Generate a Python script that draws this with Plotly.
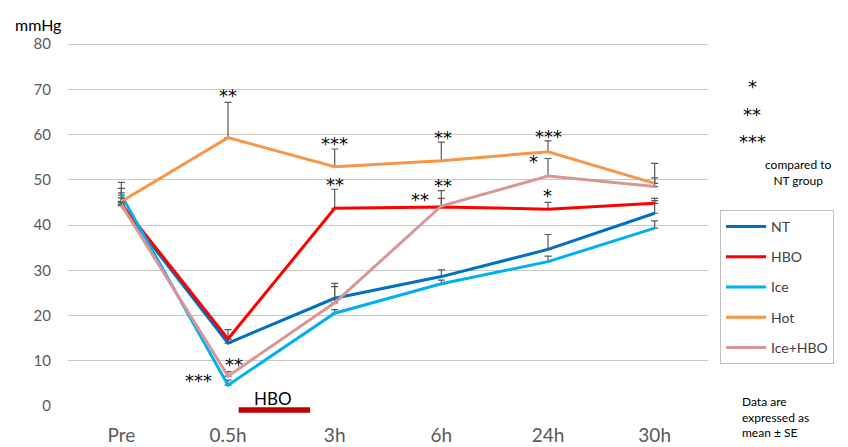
import plotly.graph_objects as go

# Time points and group means (mmHg) with upper standard errors
categories = ["Pre", "0.5h", "3h", "6h", "24h", "30h"]

nt_mean = [44.3, 13.9, 23.8, 28.6, 34.6, 42.6]
nt_se = [3.8, 0.8, 3.3, 1.5, 3.3, 2.8]

hbo_mean = [44.6, 14.8, 43.7, 44.0, 43.5, 44.8]
hbo_se = [2.5, 2.1, 4.2, 1.9, 1.5, 1.1]

ice_mean = [46.6, 4.6, 20.5, 27.0, 31.9, 39.3]
ice_se = [2.8, 1.1, 0.8, 0.8, 1.2, 1.6]

hot_mean = [45.2, 59.3, 52.9, 54.2, 56.2, 49.2]
hot_se = [0.8, 7.8, 3.9, 4.1, 2.4, 4.4]

icehbo_mean = [44.5, 6.6, 22.8, 44.2, 50.8, 48.5]
icehbo_se = [0.5, 1.0, 3.6, 3.4, 3.9, 1.9]

series = [
    ("NT", nt_mean, nt_se, "#0070C0"),
    ("HBO", hbo_mean, hbo_se, "#FF0000"),
    ("Ice", ice_mean, ice_se, "#00B0F0"),
    ("Hot", hot_mean, hot_se, "#F79646"),
    ("Ice+HBO", icehbo_mean, icehbo_se, "#D99694"),
]

# Significance marks vs NT group: (category, y value, text, x shift px)
sig_marks = [
    ("0.5h", 69.2, "**", 0),
    ("3h", 58.6, "***", 0),
    ("3h", 49.7, "**", 0),
    ("6h", 59.9, "**", 2),
    ("6h", 49.3, "**", 2),
    ("6h", 46.2, "**", -21),
    ("24h", 60.3, "***", 0),
    ("24h", 54.6, "*", -15),
    ("24h", 47.1, "*", -1),
    ("0.5h", 9.9, "**", 6),
    ("0.5h", 6.2, "***", -30),
]

FONT = "Lato"
GRAY = "#595959"
# Plot area in pixels; the value range is padded slightly above 80 so the
# top gridline is drawn
PLOT_L, PLOT_W, PLOT_T, PLOT_H = 68, 640, 41, 365
Y_TOP = 80 * PLOT_H / 362


def px_x(px):
    return (px - PLOT_L) / PLOT_W


def px_y(py):
    return (PLOT_T + PLOT_H - py) / PLOT_H


fig = go.Figure()
for name, mean, se, color in series:
    fig.add_trace(go.Scatter(
        x=categories, y=mean, name=name, mode="lines",
        line=dict(color=color, width=3),
        error_y=dict(type="data", symmetric=False, array=se,
                     arrayminus=[0] * len(se), color=GRAY,
                     thickness=1.2, width=3.5),
        legendgroup=name,
    ))

annotations = []
for cat, yv, txt, xs in sig_marks:
    annotations.append(dict(
        x=categories.index(cat), y=yv, xref="x", yref="y", text=txt,
        showarrow=False, xshift=xs, yshift=-3, xanchor="center",
        yanchor="middle",
        font=dict(family="DejaVu Sans", size=18, color="black"),
    ))

# Key for the asterisk levels
for py, txt in [(83, "*"), (111, "**"), (138, "***")]:
    annotations.append(dict(
        x=px_x(752), y=px_y(py), xref="paper", yref="paper",
        text=txt, showarrow=False, xanchor="center", yanchor="middle",
        yshift=-3, font=dict(family="DejaVu Sans", size=18, color="black"),
    ))
annotations.append(dict(
    x=px_x(798), y=px_y(172), xref="paper", yref="paper",
    text="compared to<br>NT group", showarrow=False, xanchor="center",
    yanchor="middle", align="center",
    font=dict(family=FONT, size=12, color="black"),
))
annotations.append(dict(
    x=px_x(740), y=px_y(417), xref="paper", yref="paper",
    text="Data are<br>expressed as<br>mean \u00b1 SE", showarrow=False,
    xanchor="left", yanchor="middle", align="left",
    font=dict(family=FONT, size=12, color="black"),
))
annotations.append(dict(
    x=1.42, y=px_y(398), xref="x", yref="paper", text="HBO",
    showarrow=False, xanchor="center", yanchor="middle",
    font=dict(family=FONT, size=17, color="black"),
))
annotations.append(dict(
    x=px_x(38), y=px_y(25), xref="paper", yref="paper",
    text="mmHg", showarrow=False, xanchor="center", yanchor="middle",
    font=dict(family=FONT, size=16, color="black"),
))

fig.update_layout(
    width=848, height=447,
    margin=dict(l=PLOT_L, r=848 - PLOT_L - PLOT_W, t=PLOT_T,
                b=447 - PLOT_T - PLOT_H, autoexpand=False),
    plot_bgcolor="white", paper_bgcolor="white",
    showlegend=True,
    legend=dict(
        x=px_x(720), y=px_y(210), xanchor="left", yanchor="top",
        bordercolor="#BFBFBF", borderwidth=1, tracegroupgap=9,
        font=dict(family=FONT, size=14, color="#404040"),
        itemwidth=40,
    ),
    annotations=annotations,
    shapes=[dict(
        type="rect", xref="x", yref="paper", x0=1.1, x1=1.77,
        y0=px_y(407.3), y1=px_y(412.7), fillcolor="#C00000",
        line=dict(width=0),
    )],
    xaxis=dict(
        type="category", range=[-0.5, 5.5], automargin=False,
        showgrid=False, showline=False, zeroline=False,
        tickfont=dict(family=FONT, size=19, color=GRAY),
        ticklabelstandoff=16,
    ),
    yaxis=dict(
        range=[0, Y_TOP], dtick=10, automargin=False,
        showgrid=True, gridcolor="#C8C8C8",
        gridwidth=1, zeroline=False, showline=False,
        tickfont=dict(family=FONT, size=15, color=GRAY),
        ticklabelstandoff=16,
    ),
)

fig.write_html("out.html")
